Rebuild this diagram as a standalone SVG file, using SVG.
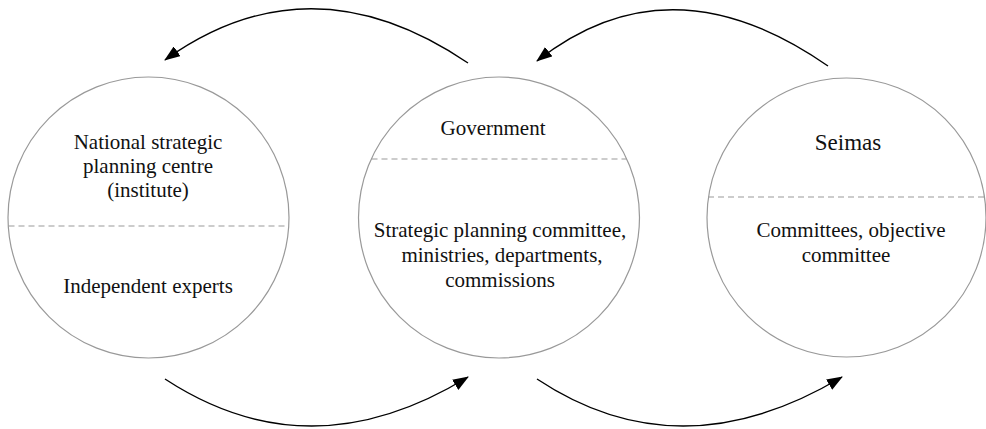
<svg xmlns="http://www.w3.org/2000/svg" width="986" height="429" viewBox="0 0 986 429">
<style>
.c{fill:#fff;stroke:#999;stroke-width:1.2}
.d{stroke:#999;stroke-width:1.2;stroke-dasharray:6 4;fill:none}
.t{font-family:"Liberation Serif","Times New Roman",serif;font-size:21px;fill:#111;text-anchor:middle}
.a{fill:none;stroke:#000;stroke-width:1.4;marker-end:url(#ah)}
</style>
<defs>
<marker id="ah" viewBox="0 0 16 12" refX="15" refY="6" markerWidth="16" markerHeight="12" markerUnits="userSpaceOnUse" orient="auto">
<path d="M0,0 L16,6 L0,12 Z" fill="#000"/>
</marker>
</defs>
<rect width="986" height="429" fill="#fff"/>
<g id="node-left">
<circle class="c" cx="148.5" cy="217.5" r="140.5"/>
<line class="d" x1="8.5" y1="226" x2="288.5" y2="226"/>
<text class="t" x="148" y="149">National strategic</text>
<text class="t" x="148" y="173">planning centre</text>
<text class="t" x="148" y="197">(institute)</text>
<text class="t" x="148" y="293">Independent experts</text>
</g>
<g id="node-middle">
<circle class="c" cx="499" cy="217.5" r="140.5"/>
<line class="d" x1="371.5" y1="159" x2="626.5" y2="159"/>
<text class="t" x="493" y="135">Government</text>
<text class="t" x="500" y="237">Strategic planning committee,</text>
<text class="t" x="502" y="262">ministries, departments,</text>
<text class="t" x="500" y="287">commissions</text>
</g>
<g id="node-right">
<circle class="c" cx="846.5" cy="217.5" r="139.5"/>
<line class="d" x1="708" y1="197" x2="985" y2="197"/>
<text class="t" x="848" y="150" style="font-size:23px">Seimas</text>
<text class="t" x="851" y="237">Committees, objective</text>
<text class="t" x="846" y="262">committee</text>
</g>
<g id="connectors">
<path class="a" d="M468,63 Q310,-44 165,60"/>
<path class="a" d="M828,66 Q670,-44 537,61"/>
<path class="a" d="M165,379 Q310,474 468,377"/>
<path class="a" d="M537,379 Q680,474 842,377"/>
</g>
</svg>
